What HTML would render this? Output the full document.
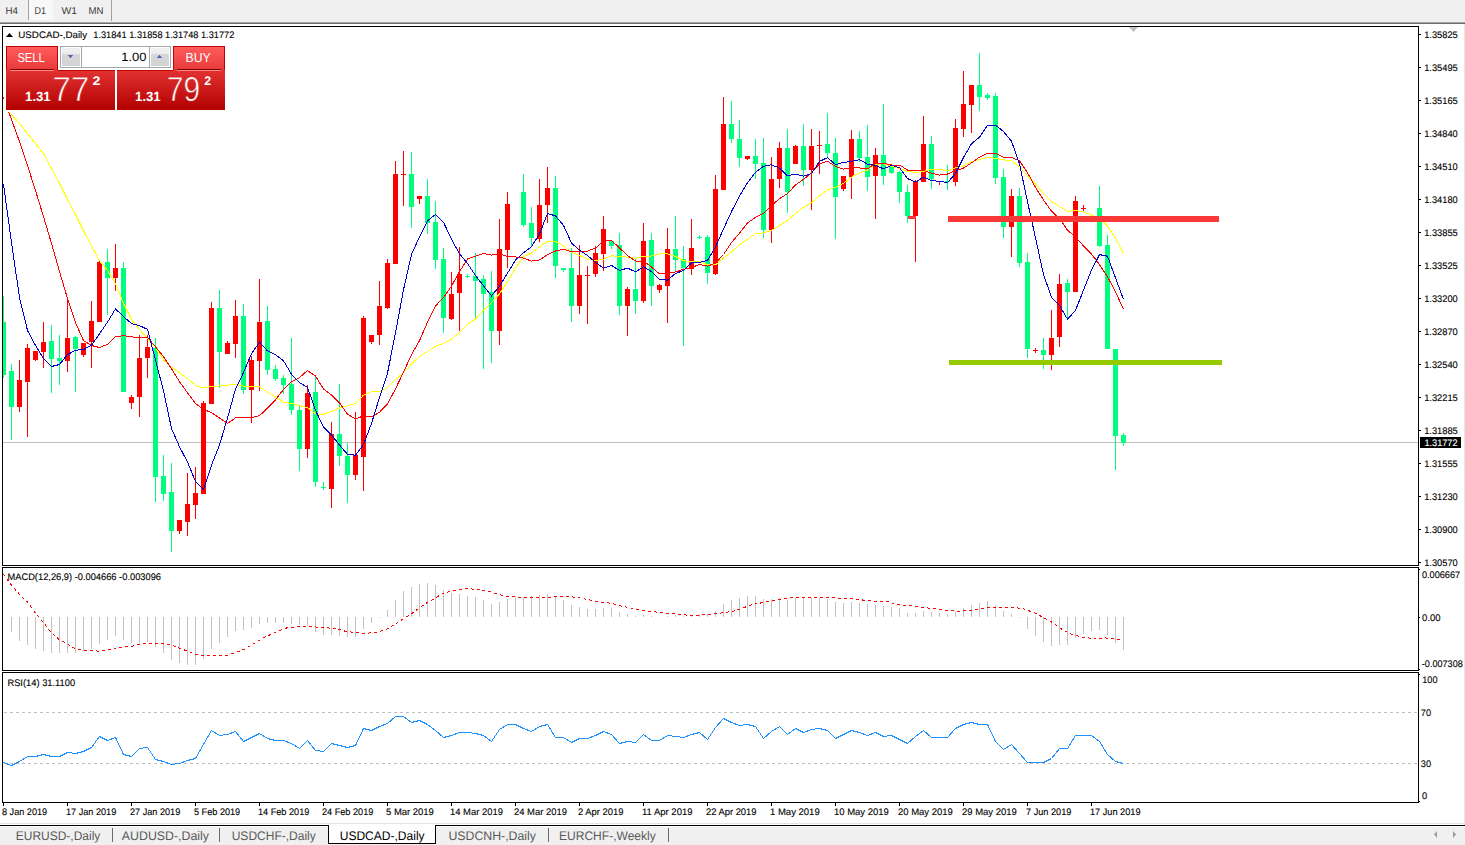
<!DOCTYPE html>
<html><head><meta charset="utf-8"><title>USDCAD-,Daily</title>
<style>
html,body{margin:0;padding:0;background:#fff;}
#root{position:relative;width:1465px;height:845px;overflow:hidden;background:#fff;font-family:"Liberation Sans",sans-serif;}
svg text{font-family:"Liberation Sans",sans-serif;text-rendering:geometricPrecision;}
</style></head><body>
<div id="root">
<svg width="1465" height="845" viewBox="0 0 1465 845" style="position:absolute;left:0;top:0" font-family="Liberation Sans, sans-serif">
<rect x="0" y="0" width="1465" height="22" fill="#f0f0f0"/>
<rect x="0" y="22" width="1465" height="1" fill="#a8a8a8"/>
<rect x="0" y="23" width="1465" height="1" fill="#6c6c6c"/>
<rect x="29" y="0" width="24" height="20" fill="#f8f8f8"/>
<rect x="28" y="0" width="1" height="20" fill="#a0a0a0"/>
<rect x="111" y="0" width="1" height="21" fill="#a0a0a0"/>
<text x="5.5" y="14" font-size="10" fill="#3a3a3a" font-weight="normal" text-anchor="start" textLength="12.5" lengthAdjust="spacingAndGlyphs"  >H4</text>
<text x="34.5" y="14" font-size="10" fill="#3a3a3a" font-weight="normal" text-anchor="start" textLength="11.5" lengthAdjust="spacingAndGlyphs"  >D1</text>
<text x="61.5" y="14" font-size="10" fill="#3a3a3a" font-weight="normal" text-anchor="start" textLength="15.5" lengthAdjust="spacingAndGlyphs"  >W1</text>
<text x="88.5" y="14" font-size="10" fill="#3a3a3a" font-weight="normal" text-anchor="start" textLength="15" lengthAdjust="spacingAndGlyphs"  >MN</text>
<rect x="1464" y="24" width="1" height="801" fill="#e8e8e8"/>
<rect x="2" y="26" width="1417" height="1" fill="#000"/>
<rect x="2" y="565" width="1417" height="1" fill="#000"/>
<rect x="2" y="26" width="1" height="540" fill="#000"/>
<rect x="1418" y="26" width="1" height="540" fill="#000"/>
<rect x="2" y="567" width="1417" height="1" fill="#000"/>
<rect x="2" y="670" width="1417" height="1" fill="#000"/>
<rect x="2" y="567" width="1" height="104" fill="#000"/>
<rect x="1418" y="567" width="1" height="104" fill="#000"/>
<rect x="2" y="672" width="1417" height="1" fill="#000"/>
<rect x="2" y="802" width="1417" height="1" fill="#000"/>
<rect x="2" y="672" width="1" height="131" fill="#000"/>
<rect x="1418" y="672" width="1" height="131" fill="#000"/>
<polygon points="1129,27 1138,27 1133.5,32" fill="#c0c0c0"/>
<defs><clipPath id="cp"><rect x="3" y="27" width="1415" height="538"/></clipPath><clipPath id="cm"><rect x="3" y="568" width="1415" height="102"/></clipPath><clipPath id="cr"><rect x="3" y="673" width="1415" height="129"/></clipPath></defs>
<g clip-path="url(#cp)">
<g shape-rendering="crispEdges">
<rect x="3" y="442" width="1415" height="1" fill="#c0c0c0"/>
<rect x="3" y="296" width="1" height="82" fill="#00ff7f"/>
<rect x="1" y="322" width="5" height="53" fill="#00ff7f"/>
<rect x="11" y="364" width="1" height="76" fill="#00ff7f"/>
<rect x="9" y="371" width="5" height="36" fill="#00ff7f"/>
<rect x="19" y="360" width="1" height="52" fill="#ff0000"/>
<rect x="17" y="380" width="5" height="27" fill="#ff0000"/>
<rect x="27" y="344" width="1" height="93" fill="#ff0000"/>
<rect x="25" y="348" width="5" height="34" fill="#ff0000"/>
<rect x="35" y="351" width="1" height="10" fill="#ff0000"/>
<rect x="33" y="351" width="5" height="9" fill="#ff0000"/>
<rect x="43" y="322" width="1" height="46" fill="#ff0000"/>
<rect x="41" y="342" width="5" height="10" fill="#ff0000"/>
<rect x="51" y="325" width="1" height="68" fill="#00ff7f"/>
<rect x="49" y="341" width="5" height="18" fill="#00ff7f"/>
<rect x="59" y="335" width="1" height="50" fill="#00ff7f"/>
<rect x="57" y="358" width="5" height="3" fill="#00ff7f"/>
<rect x="67" y="298" width="1" height="74" fill="#ff0000"/>
<rect x="65" y="338" width="5" height="23" fill="#ff0000"/>
<rect x="75" y="336" width="1" height="56" fill="#00ff7f"/>
<rect x="73" y="337" width="5" height="12" fill="#00ff7f"/>
<rect x="83" y="343" width="1" height="14" fill="#ff0000"/>
<rect x="81" y="343" width="5" height="12" fill="#ff0000"/>
<rect x="91" y="301" width="1" height="67" fill="#ff0000"/>
<rect x="89" y="321" width="5" height="21" fill="#ff0000"/>
<rect x="99" y="260" width="1" height="62" fill="#ff0000"/>
<rect x="97" y="262" width="5" height="60" fill="#ff0000"/>
<rect x="107" y="249" width="1" height="66" fill="#00ff7f"/>
<rect x="105" y="262" width="5" height="16" fill="#00ff7f"/>
<rect x="115" y="244" width="1" height="47" fill="#ff0000"/>
<rect x="113" y="268" width="5" height="10" fill="#ff0000"/>
<rect x="123" y="262" width="1" height="130" fill="#00ff7f"/>
<rect x="121" y="268" width="5" height="124" fill="#00ff7f"/>
<rect x="131" y="395" width="1" height="14" fill="#ff0000"/>
<rect x="129" y="397" width="5" height="6" fill="#ff0000"/>
<rect x="139" y="335" width="1" height="82" fill="#ff0000"/>
<rect x="137" y="358" width="5" height="39" fill="#ff0000"/>
<rect x="147" y="335" width="1" height="43" fill="#ff0000"/>
<rect x="145" y="347" width="5" height="11" fill="#ff0000"/>
<rect x="155" y="338" width="1" height="164" fill="#00ff7f"/>
<rect x="153" y="348" width="5" height="129" fill="#00ff7f"/>
<rect x="163" y="455" width="1" height="46" fill="#00ff7f"/>
<rect x="161" y="476" width="5" height="18" fill="#00ff7f"/>
<rect x="171" y="463" width="1" height="89" fill="#00ff7f"/>
<rect x="169" y="492" width="5" height="39" fill="#00ff7f"/>
<rect x="179" y="520" width="1" height="14" fill="#ff0000"/>
<rect x="177" y="520" width="5" height="11" fill="#ff0000"/>
<rect x="187" y="473" width="1" height="63" fill="#ff0000"/>
<rect x="185" y="504" width="5" height="18" fill="#ff0000"/>
<rect x="195" y="467" width="1" height="52" fill="#ff0000"/>
<rect x="193" y="493" width="5" height="12" fill="#ff0000"/>
<rect x="203" y="401" width="1" height="93" fill="#ff0000"/>
<rect x="201" y="403" width="5" height="91" fill="#ff0000"/>
<rect x="211" y="302" width="1" height="102" fill="#ff0000"/>
<rect x="209" y="308" width="5" height="96" fill="#ff0000"/>
<rect x="219" y="290" width="1" height="98" fill="#00ff7f"/>
<rect x="217" y="308" width="5" height="44" fill="#00ff7f"/>
<rect x="227" y="341" width="1" height="13" fill="#ff0000"/>
<rect x="225" y="343" width="5" height="11" fill="#ff0000"/>
<rect x="235" y="300" width="1" height="58" fill="#ff0000"/>
<rect x="233" y="316" width="5" height="28" fill="#ff0000"/>
<rect x="243" y="304" width="1" height="90" fill="#00ff7f"/>
<rect x="241" y="316" width="5" height="74" fill="#00ff7f"/>
<rect x="251" y="356" width="1" height="67" fill="#ff0000"/>
<rect x="249" y="360" width="5" height="30" fill="#ff0000"/>
<rect x="259" y="279" width="1" height="112" fill="#ff0000"/>
<rect x="257" y="322" width="5" height="39" fill="#ff0000"/>
<rect x="267" y="306" width="1" height="69" fill="#00ff7f"/>
<rect x="265" y="321" width="5" height="49" fill="#00ff7f"/>
<rect x="275" y="365" width="1" height="16" fill="#00ff7f"/>
<rect x="273" y="369" width="5" height="10" fill="#00ff7f"/>
<rect x="283" y="375" width="1" height="19" fill="#00ff7f"/>
<rect x="281" y="378" width="5" height="7" fill="#00ff7f"/>
<rect x="291" y="338" width="1" height="77" fill="#00ff7f"/>
<rect x="289" y="384" width="5" height="26" fill="#00ff7f"/>
<rect x="299" y="405" width="1" height="66" fill="#00ff7f"/>
<rect x="297" y="410" width="5" height="39" fill="#00ff7f"/>
<rect x="307" y="385" width="1" height="73" fill="#ff0000"/>
<rect x="305" y="393" width="5" height="56" fill="#ff0000"/>
<rect x="315" y="377" width="1" height="110" fill="#00ff7f"/>
<rect x="313" y="392" width="5" height="90" fill="#00ff7f"/>
<rect x="323" y="482" width="1" height="8" fill="#00ff7f"/>
<rect x="321" y="487" width="5" height="1" fill="#00ff7f"/>
<rect x="331" y="422" width="1" height="86" fill="#ff0000"/>
<rect x="329" y="434" width="5" height="55" fill="#ff0000"/>
<rect x="339" y="384" width="1" height="82" fill="#00ff7f"/>
<rect x="337" y="434" width="5" height="22" fill="#00ff7f"/>
<rect x="347" y="443" width="1" height="60" fill="#00ff7f"/>
<rect x="345" y="456" width="5" height="19" fill="#00ff7f"/>
<rect x="355" y="412" width="1" height="68" fill="#ff0000"/>
<rect x="353" y="455" width="5" height="20" fill="#ff0000"/>
<rect x="363" y="316" width="1" height="175" fill="#ff0000"/>
<rect x="361" y="318" width="5" height="139" fill="#ff0000"/>
<rect x="371" y="335" width="1" height="9" fill="#ff0000"/>
<rect x="369" y="335" width="5" height="7" fill="#ff0000"/>
<rect x="379" y="281" width="1" height="64" fill="#ff0000"/>
<rect x="377" y="306" width="5" height="29" fill="#ff0000"/>
<rect x="387" y="259" width="1" height="50" fill="#ff0000"/>
<rect x="385" y="263" width="5" height="45" fill="#ff0000"/>
<rect x="395" y="161" width="1" height="103" fill="#ff0000"/>
<rect x="393" y="174" width="5" height="90" fill="#ff0000"/>
<rect x="403" y="151" width="1" height="55" fill="#ff0000"/>
<rect x="401" y="174" width="5" height="1" fill="#ff0000"/>
<rect x="411" y="152" width="1" height="76" fill="#00ff7f"/>
<rect x="409" y="174" width="5" height="33" fill="#00ff7f"/>
<rect x="419" y="196" width="1" height="8" fill="#ff0000"/>
<rect x="417" y="196" width="5" height="3" fill="#ff0000"/>
<rect x="427" y="179" width="1" height="55" fill="#00ff7f"/>
<rect x="425" y="196" width="5" height="27" fill="#00ff7f"/>
<rect x="435" y="201" width="1" height="68" fill="#00ff7f"/>
<rect x="433" y="222" width="5" height="38" fill="#00ff7f"/>
<rect x="443" y="248" width="1" height="85" fill="#00ff7f"/>
<rect x="441" y="259" width="5" height="59" fill="#00ff7f"/>
<rect x="451" y="272" width="1" height="48" fill="#ff0000"/>
<rect x="449" y="294" width="5" height="25" fill="#ff0000"/>
<rect x="459" y="247" width="1" height="84" fill="#ff0000"/>
<rect x="457" y="274" width="5" height="19" fill="#ff0000"/>
<rect x="467" y="274" width="1" height="4" fill="#00ff7f"/>
<rect x="465" y="276" width="5" height="1" fill="#00ff7f"/>
<rect x="475" y="253" width="1" height="65" fill="#00ff7f"/>
<rect x="473" y="276" width="5" height="5" fill="#00ff7f"/>
<rect x="483" y="275" width="1" height="94" fill="#00ff7f"/>
<rect x="481" y="279" width="5" height="15" fill="#00ff7f"/>
<rect x="491" y="271" width="1" height="92" fill="#00ff7f"/>
<rect x="489" y="292" width="5" height="39" fill="#00ff7f"/>
<rect x="499" y="219" width="1" height="126" fill="#ff0000"/>
<rect x="497" y="249" width="5" height="82" fill="#ff0000"/>
<rect x="507" y="192" width="1" height="76" fill="#ff0000"/>
<rect x="505" y="204" width="5" height="46" fill="#ff0000"/>
<rect x="523" y="174" width="1" height="53" fill="#00ff7f"/>
<rect x="521" y="192" width="5" height="33" fill="#00ff7f"/>
<rect x="531" y="207" width="1" height="39" fill="#00ff7f"/>
<rect x="529" y="223" width="5" height="15" fill="#00ff7f"/>
<rect x="539" y="179" width="1" height="63" fill="#ff0000"/>
<rect x="537" y="205" width="5" height="34" fill="#ff0000"/>
<rect x="547" y="167" width="1" height="56" fill="#ff0000"/>
<rect x="545" y="188" width="5" height="17" fill="#ff0000"/>
<rect x="555" y="176" width="1" height="102" fill="#00ff7f"/>
<rect x="553" y="188" width="5" height="78" fill="#00ff7f"/>
<rect x="563" y="268" width="1" height="4" fill="#00ff7f"/>
<rect x="561" y="268" width="5" height="2" fill="#00ff7f"/>
<rect x="571" y="248" width="1" height="74" fill="#00ff7f"/>
<rect x="569" y="268" width="5" height="38" fill="#00ff7f"/>
<rect x="579" y="245" width="1" height="69" fill="#ff0000"/>
<rect x="577" y="275" width="5" height="31" fill="#ff0000"/>
<rect x="587" y="266" width="1" height="58" fill="#ff0000"/>
<rect x="585" y="275" width="5" height="1" fill="#ff0000"/>
<rect x="595" y="246" width="1" height="31" fill="#ff0000"/>
<rect x="593" y="253" width="5" height="21" fill="#ff0000"/>
<rect x="603" y="216" width="1" height="55" fill="#ff0000"/>
<rect x="601" y="229" width="5" height="25" fill="#ff0000"/>
<rect x="611" y="241" width="1" height="8" fill="#00ff7f"/>
<rect x="609" y="241" width="5" height="5" fill="#00ff7f"/>
<rect x="619" y="233" width="1" height="82" fill="#00ff7f"/>
<rect x="617" y="245" width="5" height="61" fill="#00ff7f"/>
<rect x="627" y="287" width="1" height="49" fill="#ff0000"/>
<rect x="625" y="289" width="5" height="17" fill="#ff0000"/>
<rect x="635" y="259" width="1" height="55" fill="#00ff7f"/>
<rect x="633" y="289" width="5" height="12" fill="#00ff7f"/>
<rect x="643" y="223" width="1" height="80" fill="#ff0000"/>
<rect x="641" y="241" width="5" height="60" fill="#ff0000"/>
<rect x="651" y="233" width="1" height="73" fill="#00ff7f"/>
<rect x="649" y="240" width="5" height="46" fill="#00ff7f"/>
<rect x="659" y="284" width="1" height="9" fill="#ff0000"/>
<rect x="657" y="285" width="5" height="5" fill="#ff0000"/>
<rect x="667" y="228" width="1" height="95" fill="#ff0000"/>
<rect x="665" y="249" width="5" height="37" fill="#ff0000"/>
<rect x="675" y="216" width="1" height="55" fill="#00ff7f"/>
<rect x="673" y="249" width="5" height="11" fill="#00ff7f"/>
<rect x="683" y="246" width="1" height="100" fill="#00ff7f"/>
<rect x="681" y="259" width="5" height="9" fill="#00ff7f"/>
<rect x="691" y="219" width="1" height="56" fill="#ff0000"/>
<rect x="689" y="248" width="5" height="21" fill="#ff0000"/>
<rect x="699" y="235" width="1" height="4" fill="#00ff7f"/>
<rect x="697" y="237" width="5" height="1" fill="#00ff7f"/>
<rect x="707" y="235" width="1" height="49" fill="#00ff7f"/>
<rect x="705" y="237" width="5" height="36" fill="#00ff7f"/>
<rect x="715" y="175" width="1" height="100" fill="#ff0000"/>
<rect x="713" y="189" width="5" height="85" fill="#ff0000"/>
<rect x="723" y="97" width="1" height="93" fill="#ff0000"/>
<rect x="721" y="124" width="5" height="66" fill="#ff0000"/>
<rect x="731" y="101" width="1" height="42" fill="#00ff7f"/>
<rect x="729" y="124" width="5" height="15" fill="#00ff7f"/>
<rect x="739" y="120" width="1" height="47" fill="#00ff7f"/>
<rect x="737" y="139" width="5" height="19" fill="#00ff7f"/>
<rect x="747" y="156" width="1" height="4" fill="#ff0000"/>
<rect x="745" y="156" width="5" height="3" fill="#ff0000"/>
<rect x="755" y="139" width="1" height="40" fill="#00ff7f"/>
<rect x="753" y="156" width="5" height="8" fill="#00ff7f"/>
<rect x="763" y="138" width="1" height="100" fill="#00ff7f"/>
<rect x="761" y="163" width="5" height="67" fill="#00ff7f"/>
<rect x="771" y="157" width="1" height="86" fill="#ff0000"/>
<rect x="769" y="179" width="5" height="51" fill="#ff0000"/>
<rect x="779" y="142" width="1" height="46" fill="#ff0000"/>
<rect x="777" y="148" width="5" height="31" fill="#ff0000"/>
<rect x="787" y="129" width="1" height="84" fill="#00ff7f"/>
<rect x="785" y="148" width="5" height="44" fill="#00ff7f"/>
<rect x="795" y="145" width="1" height="19" fill="#ff0000"/>
<rect x="793" y="146" width="5" height="18" fill="#ff0000"/>
<rect x="803" y="124" width="1" height="62" fill="#00ff7f"/>
<rect x="801" y="146" width="5" height="24" fill="#00ff7f"/>
<rect x="811" y="129" width="1" height="81" fill="#ff0000"/>
<rect x="809" y="146" width="5" height="24" fill="#ff0000"/>
<rect x="819" y="131" width="1" height="43" fill="#ff0000"/>
<rect x="817" y="145" width="5" height="1" fill="#ff0000"/>
<rect x="827" y="113" width="1" height="45" fill="#00ff7f"/>
<rect x="825" y="144" width="5" height="9" fill="#00ff7f"/>
<rect x="835" y="138" width="1" height="101" fill="#00ff7f"/>
<rect x="833" y="153" width="5" height="44" fill="#00ff7f"/>
<rect x="843" y="176" width="1" height="15" fill="#ff0000"/>
<rect x="841" y="176" width="5" height="13" fill="#ff0000"/>
<rect x="851" y="130" width="1" height="69" fill="#ff0000"/>
<rect x="849" y="139" width="5" height="38" fill="#ff0000"/>
<rect x="859" y="131" width="1" height="31" fill="#00ff7f"/>
<rect x="857" y="139" width="5" height="19" fill="#00ff7f"/>
<rect x="867" y="125" width="1" height="66" fill="#00ff7f"/>
<rect x="865" y="157" width="5" height="20" fill="#00ff7f"/>
<rect x="875" y="148" width="1" height="71" fill="#ff0000"/>
<rect x="873" y="155" width="5" height="21" fill="#ff0000"/>
<rect x="883" y="104" width="1" height="81" fill="#00ff7f"/>
<rect x="881" y="155" width="5" height="21" fill="#00ff7f"/>
<rect x="891" y="164" width="1" height="10" fill="#00ff7f"/>
<rect x="889" y="165" width="5" height="8" fill="#00ff7f"/>
<rect x="899" y="171" width="1" height="32" fill="#00ff7f"/>
<rect x="897" y="172" width="5" height="20" fill="#00ff7f"/>
<rect x="907" y="185" width="1" height="38" fill="#00ff7f"/>
<rect x="905" y="192" width="5" height="24" fill="#00ff7f"/>
<rect x="915" y="180" width="1" height="82" fill="#ff0000"/>
<rect x="913" y="181" width="5" height="35" fill="#ff0000"/>
<rect x="923" y="116" width="1" height="66" fill="#ff0000"/>
<rect x="921" y="144" width="5" height="38" fill="#ff0000"/>
<rect x="931" y="136" width="1" height="53" fill="#00ff7f"/>
<rect x="929" y="144" width="5" height="35" fill="#00ff7f"/>
<rect x="939" y="181" width="1" height="4" fill="#ff0000"/>
<rect x="937" y="181" width="5" height="1" fill="#ff0000"/>
<rect x="947" y="165" width="1" height="25" fill="#00ff7f"/>
<rect x="945" y="181" width="5" height="1" fill="#00ff7f"/>
<rect x="955" y="119" width="1" height="67" fill="#ff0000"/>
<rect x="953" y="128" width="5" height="54" fill="#ff0000"/>
<rect x="963" y="71" width="1" height="66" fill="#ff0000"/>
<rect x="961" y="104" width="5" height="25" fill="#ff0000"/>
<rect x="971" y="85" width="1" height="48" fill="#ff0000"/>
<rect x="969" y="85" width="5" height="20" fill="#ff0000"/>
<rect x="979" y="53" width="1" height="58" fill="#00ff7f"/>
<rect x="977" y="85" width="5" height="12" fill="#00ff7f"/>
<rect x="987" y="93" width="1" height="7" fill="#00ff7f"/>
<rect x="985" y="95" width="5" height="3" fill="#00ff7f"/>
<rect x="995" y="93" width="1" height="91" fill="#00ff7f"/>
<rect x="993" y="96" width="5" height="82" fill="#00ff7f"/>
<rect x="1003" y="169" width="1" height="69" fill="#00ff7f"/>
<rect x="1001" y="177" width="5" height="50" fill="#00ff7f"/>
<rect x="1011" y="189" width="1" height="68" fill="#ff0000"/>
<rect x="1009" y="196" width="5" height="31" fill="#ff0000"/>
<rect x="1019" y="188" width="1" height="79" fill="#00ff7f"/>
<rect x="1017" y="196" width="5" height="67" fill="#00ff7f"/>
<rect x="1027" y="253" width="1" height="105" fill="#00ff7f"/>
<rect x="1025" y="262" width="5" height="87" fill="#00ff7f"/>
<rect x="1035" y="348" width="1" height="5" fill="#ff0000"/>
<rect x="1033" y="350" width="5" height="1" fill="#ff0000"/>
<rect x="1043" y="338" width="1" height="31" fill="#00ff7f"/>
<rect x="1041" y="350" width="5" height="5" fill="#00ff7f"/>
<rect x="1051" y="310" width="1" height="60" fill="#ff0000"/>
<rect x="1049" y="338" width="5" height="17" fill="#ff0000"/>
<rect x="1059" y="274" width="1" height="73" fill="#ff0000"/>
<rect x="1057" y="284" width="5" height="53" fill="#ff0000"/>
<rect x="1067" y="279" width="1" height="40" fill="#00ff7f"/>
<rect x="1065" y="283" width="5" height="9" fill="#00ff7f"/>
<rect x="1075" y="196" width="1" height="96" fill="#ff0000"/>
<rect x="1073" y="201" width="5" height="91" fill="#ff0000"/>
<rect x="1083" y="205" width="1" height="6" fill="#ff0000"/>
<rect x="1081" y="208" width="5" height="1" fill="#ff0000"/>
<rect x="1099" y="186" width="1" height="61" fill="#00ff7f"/>
<rect x="1097" y="208" width="5" height="38" fill="#00ff7f"/>
<rect x="1107" y="235" width="1" height="114" fill="#00ff7f"/>
<rect x="1105" y="245" width="5" height="104" fill="#00ff7f"/>
<rect x="1115" y="349" width="1" height="121" fill="#00ff7f"/>
<rect x="1113" y="349" width="5" height="87" fill="#00ff7f"/>
<rect x="1123" y="433" width="1" height="13" fill="#00ff7f"/>
<rect x="1121" y="435" width="5" height="8" fill="#00ff7f"/>
</g>
<g shape-rendering="crispEdges">
<polyline points="3.5,108.5 11.5,114.5 19.5,123.5 27.5,133.5 35.5,143.5 43.5,153.5 51.5,168.5 59.5,183.5 67.5,199.5 75.5,214.5 83.5,230.5 91.5,246.1 99.5,260.5 107.5,270.5 115.5,283.5 123.5,303.5 131.5,319.5 139.5,329.5 147.5,338.5 155.5,347.5 163.5,359.9 171.5,367.3 179.5,372.7 187.5,378.6 195.5,385.5 203.5,388.0 211.5,386.4 219.5,386.0 227.5,385.2 235.5,384.1 243.5,386.1 251.5,386.9 259.5,386.9 267.5,392.1 275.5,396.9 283.5,402.5 291.5,403.3 299.5,405.8 307.5,407.5 315.5,413.9 323.5,414.4 331.5,411.5 339.5,408.0 347.5,405.8 355.5,403.5 363.5,395.2 371.5,391.9 379.5,391.8 387.5,387.6 395.5,379.5 403.5,372.8 411.5,364.1 419.5,356.3 427.5,351.5 435.5,346.3 443.5,343.4 451.5,339.1 459.5,332.6 467.5,324.4 475.5,319.0 483.5,310.1 491.5,302.6 499.5,293.8 507.5,281.8 515.5,267.8 523.5,256.9 531.5,253.1 539.5,246.9 547.5,241.3 555.5,241.4 563.5,246.0 571.5,252.3 579.5,255.5 587.5,259.3 595.5,260.7 603.5,259.2 611.5,255.8 619.5,256.4 627.5,257.1 635.5,258.3 643.5,256.4 651.5,256.0 659.5,253.8 667.5,253.8 675.5,256.5 683.5,260.5 691.5,261.6 699.5,261.6 707.5,264.8 715.5,264.9 723.5,258.1 731.5,251.9 739.5,244.8 747.5,239.2 755.5,233.9 763.5,232.8 771.5,230.4 779.5,225.7 787.5,220.3 795.5,213.5 803.5,207.3 811.5,202.7 819.5,196.0 827.5,189.7 835.5,187.3 843.5,183.3 851.5,177.1 859.5,172.8 867.5,170.0 875.5,164.4 883.5,163.7 891.5,166.1 899.5,168.6 907.5,171.4 915.5,172.5 923.5,171.6 931.5,169.2 939.5,169.3 947.5,170.9 955.5,167.8 963.5,165.8 971.5,161.8 979.5,159.5 987.5,157.2 995.5,158.4 1003.5,159.8 1011.5,160.8 1019.5,166.7 1027.5,175.8 1035.5,184.0 1043.5,193.5 1051.5,201.3 1059.5,206.5 1067.5,211.3 1075.5,210.6 1083.5,211.9 1091.5,215.0 1099.5,218.2 1107.5,226.2 1115.5,238.3 1123.5,253.3" fill="none" stroke="#ffff00" stroke-width="1" />
<polyline points="3.5,97.5 11.5,119.5 19.5,141.5 27.5,165.5 35.5,190.5 43.5,216.5 51.5,243.5 59.5,271.5 67.5,298.5 75.5,322.5 83.5,340.5 91.5,345.5 99.5,347.5 107.5,344.4 115.5,336.7 123.5,335.6 131.5,336.9 139.5,337.6 147.5,337.3 155.5,346.9 163.5,356.6 171.5,368.7 179.5,381.7 187.5,392.8 195.5,403.5 203.5,409.4 211.5,412.6 219.5,417.9 227.5,423.3 235.5,417.9 243.5,417.4 251.5,417.5 259.5,415.7 267.5,408.1 275.5,399.9 283.5,389.4 291.5,381.6 299.5,377.6 307.5,370.5 315.5,376.1 323.5,389.0 331.5,394.9 339.5,402.9 347.5,414.3 355.5,418.9 363.5,415.9 371.5,416.9 379.5,412.3 387.5,404.0 395.5,388.9 403.5,372.1 411.5,354.8 419.5,340.7 427.5,322.2 435.5,305.9 443.5,297.6 451.5,286.1 459.5,271.7 467.5,258.9 475.5,256.3 483.5,253.4 491.5,255.1 499.5,254.1 507.5,256.3 515.5,256.9 523.5,258.1 531.5,261.1 539.5,259.9 547.5,254.7 555.5,251.0 563.5,249.3 571.5,251.6 579.5,251.5 587.5,251.1 595.5,248.1 603.5,240.9 611.5,240.6 619.5,247.9 627.5,255.6 635.5,261.0 643.5,261.2 651.5,267.0 659.5,273.9 667.5,272.7 675.5,272.0 683.5,269.3 691.5,267.4 699.5,264.6 707.5,266.1 715.5,263.2 723.5,254.5 731.5,242.6 739.5,233.2 747.5,222.9 755.5,217.4 763.5,213.4 771.5,205.8 779.5,198.6 787.5,193.7 795.5,185.0 803.5,179.4 811.5,172.9 819.5,163.8 827.5,161.2 835.5,166.4 843.5,169.1 851.5,167.7 859.5,167.9 867.5,168.8 875.5,163.4 883.5,163.2 891.5,165.0 899.5,165.0 907.5,170.0 915.5,170.8 923.5,170.6 931.5,173.1 939.5,175.1 947.5,174.0 955.5,170.6 963.5,168.1 971.5,162.9 979.5,157.1 987.5,153.1 995.5,153.2 1003.5,157.1 1011.5,157.4 1019.5,160.7 1027.5,172.7 1035.5,187.4 1043.5,200.0 1051.5,211.2 1059.5,218.5 1067.5,230.2 1075.5,237.1 1083.5,245.9 1091.5,254.0 1099.5,264.6 1107.5,276.8 1115.5,291.7 1123.5,309.4" fill="none" stroke="#ff0000" stroke-width="1" />
<polyline points="3.5,184.5 11.5,242.5 19.5,297.5 27.5,330.5 35.5,345.5 43.5,358.5 51.5,366.5 59.5,364.5 67.5,354.6 75.5,350.2 83.5,349.5 91.5,345.2 99.5,333.8 107.5,322.2 115.5,308.9 123.5,316.6 131.5,323.5 139.5,325.6 147.5,329.4 155.5,360.1 163.5,390.9 171.5,428.5 179.5,446.8 187.5,462.1 195.5,481.4 203.5,489.4 211.5,465.2 219.5,444.9 227.5,418.1 235.5,388.9 243.5,372.6 251.5,353.6 259.5,342.1 267.5,350.9 275.5,354.8 283.5,360.8 291.5,374.2 299.5,382.6 307.5,387.4 315.5,410.2 323.5,427.1 331.5,434.9 339.5,445.1 347.5,454.4 355.5,455.2 363.5,444.5 371.5,423.5 379.5,397.5 387.5,373.1 395.5,332.8 403.5,289.8 411.5,254.4 419.5,236.9 427.5,220.9 435.5,214.4 443.5,222.2 451.5,239.4 459.5,253.6 467.5,263.5 475.5,275.6 483.5,285.8 491.5,295.9 499.5,286.1 507.5,273.2 515.5,260.1 523.5,252.8 531.5,246.6 539.5,233.9 547.5,213.5 555.5,215.9 563.5,225.4 571.5,243.1 579.5,250.2 587.5,255.5 595.5,262.4 603.5,268.2 611.5,265.4 619.5,270.5 627.5,268.1 635.5,271.8 643.5,266.9 651.5,271.6 659.5,279.6 667.5,280.1 675.5,273.5 683.5,270.5 691.5,262.9 699.5,262.4 707.5,260.5 715.5,246.8 723.5,228.9 731.5,211.6 739.5,195.9 747.5,182.8 755.5,172.4 763.5,166.2 771.5,164.8 779.5,168.2 787.5,175.8 795.5,174.1 803.5,176.1 811.5,173.5 819.5,161.4 827.5,157.6 835.5,164.6 843.5,162.4 851.5,161.4 859.5,159.6 867.5,164.1 875.5,165.5 883.5,168.8 891.5,165.4 899.5,167.6 907.5,178.6 915.5,181.9 923.5,177.2 931.5,180.6 939.5,181.4 947.5,182.6 955.5,173.5 963.5,157.5 971.5,143.8 979.5,137.1 987.5,125.5 995.5,125.1 1003.5,131.5 1011.5,141.2 1019.5,163.9 1027.5,201.6 1035.5,237.8 1043.5,274.5 1051.5,297.4 1059.5,305.5 1067.5,319.2 1075.5,310.4 1083.5,290.2 1091.5,270.2 1099.5,254.6 1107.5,256.2 1115.5,277.9 1123.5,299.5" fill="none" stroke="#0000cd" stroke-width="1" />
</g>
<rect x="908" y="216" width="8" height="3" fill="#fa3838"/>
<rect x="948" y="216" width="271" height="6" fill="#fa3838"/>
<rect x="949" y="360" width="273" height="5" fill="#96ca00"/>
</g>
<g clip-path="url(#cm)">
<g shape-rendering="crispEdges">
<rect x="11" y="617" width="1" height="15" fill="#c0c0c0"/>
<rect x="19" y="617" width="1" height="24" fill="#c0c0c0"/>
<rect x="27" y="617" width="1" height="28" fill="#c0c0c0"/>
<rect x="35" y="617" width="1" height="32" fill="#c0c0c0"/>
<rect x="43" y="617" width="1" height="34" fill="#c0c0c0"/>
<rect x="51" y="617" width="1" height="36" fill="#c0c0c0"/>
<rect x="59" y="617" width="1" height="36" fill="#c0c0c0"/>
<rect x="67" y="617" width="1" height="36" fill="#c0c0c0"/>
<rect x="75" y="617" width="1" height="36" fill="#c0c0c0"/>
<rect x="83" y="617" width="1" height="34" fill="#c0c0c0"/>
<rect x="91" y="617" width="1" height="32" fill="#c0c0c0"/>
<rect x="99" y="617" width="1" height="27" fill="#c0c0c0"/>
<rect x="107" y="617" width="1" height="23" fill="#c0c0c0"/>
<rect x="115" y="617" width="1" height="19" fill="#c0c0c0"/>
<rect x="123" y="617" width="1" height="23" fill="#c0c0c0"/>
<rect x="131" y="617" width="1" height="26" fill="#c0c0c0"/>
<rect x="139" y="617" width="1" height="26" fill="#c0c0c0"/>
<rect x="147" y="617" width="1" height="25" fill="#c0c0c0"/>
<rect x="155" y="617" width="1" height="30" fill="#c0c0c0"/>
<rect x="163" y="617" width="1" height="36" fill="#c0c0c0"/>
<rect x="171" y="617" width="1" height="43" fill="#c0c0c0"/>
<rect x="179" y="617" width="1" height="46" fill="#c0c0c0"/>
<rect x="187" y="617" width="1" height="48" fill="#c0c0c0"/>
<rect x="195" y="617" width="1" height="48" fill="#c0c0c0"/>
<rect x="203" y="617" width="1" height="42" fill="#c0c0c0"/>
<rect x="211" y="617" width="1" height="32" fill="#c0c0c0"/>
<rect x="219" y="617" width="1" height="26" fill="#c0c0c0"/>
<rect x="227" y="617" width="1" height="20" fill="#c0c0c0"/>
<rect x="235" y="617" width="1" height="14" fill="#c0c0c0"/>
<rect x="243" y="617" width="1" height="13" fill="#c0c0c0"/>
<rect x="251" y="617" width="1" height="11" fill="#c0c0c0"/>
<rect x="259" y="617" width="1" height="7" fill="#c0c0c0"/>
<rect x="267" y="617" width="1" height="6" fill="#c0c0c0"/>
<rect x="275" y="617" width="1" height="6" fill="#c0c0c0"/>
<rect x="283" y="617" width="1" height="6" fill="#c0c0c0"/>
<rect x="291" y="617" width="1" height="7" fill="#c0c0c0"/>
<rect x="299" y="617" width="1" height="8" fill="#c0c0c0"/>
<rect x="307" y="617" width="1" height="9" fill="#c0c0c0"/>
<rect x="315" y="617" width="1" height="15" fill="#c0c0c0"/>
<rect x="323" y="617" width="1" height="18" fill="#c0c0c0"/>
<rect x="331" y="617" width="1" height="18" fill="#c0c0c0"/>
<rect x="339" y="617" width="1" height="19" fill="#c0c0c0"/>
<rect x="347" y="617" width="1" height="20" fill="#c0c0c0"/>
<rect x="355" y="617" width="1" height="20" fill="#c0c0c0"/>
<rect x="363" y="617" width="1" height="12" fill="#c0c0c0"/>
<rect x="371" y="617" width="1" height="6" fill="#c0c0c0"/>
<rect x="379" y="617" width="1" height="1" fill="#c0c0c0"/>
<rect x="387" y="610" width="1" height="7" fill="#c0c0c0"/>
<rect x="395" y="600" width="1" height="17" fill="#c0c0c0"/>
<rect x="403" y="591" width="1" height="26" fill="#c0c0c0"/>
<rect x="411" y="587" width="1" height="30" fill="#c0c0c0"/>
<rect x="419" y="584" width="1" height="33" fill="#c0c0c0"/>
<rect x="427" y="583" width="1" height="34" fill="#c0c0c0"/>
<rect x="435" y="585" width="1" height="32" fill="#c0c0c0"/>
<rect x="443" y="590" width="1" height="27" fill="#c0c0c0"/>
<rect x="451" y="593" width="1" height="24" fill="#c0c0c0"/>
<rect x="459" y="594" width="1" height="23" fill="#c0c0c0"/>
<rect x="467" y="596" width="1" height="21" fill="#c0c0c0"/>
<rect x="475" y="597" width="1" height="20" fill="#c0c0c0"/>
<rect x="483" y="600" width="1" height="17" fill="#c0c0c0"/>
<rect x="491" y="604" width="1" height="13" fill="#c0c0c0"/>
<rect x="499" y="602" width="1" height="15" fill="#c0c0c0"/>
<rect x="507" y="599" width="1" height="18" fill="#c0c0c0"/>
<rect x="515" y="597" width="1" height="20" fill="#c0c0c0"/>
<rect x="523" y="597" width="1" height="20" fill="#c0c0c0"/>
<rect x="531" y="596" width="1" height="21" fill="#c0c0c0"/>
<rect x="539" y="595" width="1" height="22" fill="#c0c0c0"/>
<rect x="547" y="594" width="1" height="23" fill="#c0c0c0"/>
<rect x="555" y="597" width="1" height="20" fill="#c0c0c0"/>
<rect x="563" y="600" width="1" height="17" fill="#c0c0c0"/>
<rect x="571" y="605" width="1" height="12" fill="#c0c0c0"/>
<rect x="579" y="607" width="1" height="10" fill="#c0c0c0"/>
<rect x="587" y="609" width="1" height="8" fill="#c0c0c0"/>
<rect x="595" y="609" width="1" height="8" fill="#c0c0c0"/>
<rect x="603" y="608" width="1" height="9" fill="#c0c0c0"/>
<rect x="611" y="608" width="1" height="9" fill="#c0c0c0"/>
<rect x="619" y="612" width="1" height="5" fill="#c0c0c0"/>
<rect x="627" y="614" width="1" height="3" fill="#c0c0c0"/>
<rect x="635" y="616" width="1" height="1" fill="#c0c0c0"/>
<rect x="643" y="615" width="1" height="2" fill="#c0c0c0"/>
<rect x="651" y="616" width="1" height="1" fill="#c0c0c0"/>
<rect x="667" y="616" width="1" height="1" fill="#c0c0c0"/>
<rect x="675" y="615" width="1" height="2" fill="#c0c0c0"/>
<rect x="683" y="616" width="1" height="1" fill="#c0c0c0"/>
<rect x="691" y="615" width="1" height="2" fill="#c0c0c0"/>
<rect x="699" y="614" width="1" height="3" fill="#c0c0c0"/>
<rect x="707" y="614" width="1" height="3" fill="#c0c0c0"/>
<rect x="715" y="611" width="1" height="6" fill="#c0c0c0"/>
<rect x="723" y="604" width="1" height="13" fill="#c0c0c0"/>
<rect x="731" y="600" width="1" height="17" fill="#c0c0c0"/>
<rect x="739" y="598" width="1" height="19" fill="#c0c0c0"/>
<rect x="747" y="596" width="1" height="21" fill="#c0c0c0"/>
<rect x="755" y="596" width="1" height="21" fill="#c0c0c0"/>
<rect x="763" y="599" width="1" height="18" fill="#c0c0c0"/>
<rect x="771" y="599" width="1" height="18" fill="#c0c0c0"/>
<rect x="779" y="598" width="1" height="19" fill="#c0c0c0"/>
<rect x="787" y="600" width="1" height="17" fill="#c0c0c0"/>
<rect x="795" y="598" width="1" height="19" fill="#c0c0c0"/>
<rect x="803" y="598" width="1" height="19" fill="#c0c0c0"/>
<rect x="811" y="598" width="1" height="19" fill="#c0c0c0"/>
<rect x="819" y="598" width="1" height="19" fill="#c0c0c0"/>
<rect x="827" y="599" width="1" height="18" fill="#c0c0c0"/>
<rect x="835" y="602" width="1" height="15" fill="#c0c0c0"/>
<rect x="843" y="603" width="1" height="14" fill="#c0c0c0"/>
<rect x="851" y="602" width="1" height="15" fill="#c0c0c0"/>
<rect x="859" y="603" width="1" height="14" fill="#c0c0c0"/>
<rect x="867" y="604" width="1" height="13" fill="#c0c0c0"/>
<rect x="875" y="605" width="1" height="12" fill="#c0c0c0"/>
<rect x="883" y="606" width="1" height="11" fill="#c0c0c0"/>
<rect x="891" y="607" width="1" height="10" fill="#c0c0c0"/>
<rect x="899" y="608" width="1" height="9" fill="#c0c0c0"/>
<rect x="907" y="613" width="1" height="4" fill="#c0c0c0"/>
<rect x="915" y="613" width="1" height="4" fill="#c0c0c0"/>
<rect x="923" y="611" width="1" height="6" fill="#c0c0c0"/>
<rect x="931" y="612" width="1" height="5" fill="#c0c0c0"/>
<rect x="939" y="613" width="1" height="4" fill="#c0c0c0"/>
<rect x="947" y="614" width="1" height="3" fill="#c0c0c0"/>
<rect x="955" y="612" width="1" height="5" fill="#c0c0c0"/>
<rect x="963" y="608" width="1" height="9" fill="#c0c0c0"/>
<rect x="971" y="605" width="1" height="12" fill="#c0c0c0"/>
<rect x="979" y="603" width="1" height="14" fill="#c0c0c0"/>
<rect x="987" y="601" width="1" height="16" fill="#c0c0c0"/>
<rect x="995" y="605" width="1" height="12" fill="#c0c0c0"/>
<rect x="1003" y="611" width="1" height="6" fill="#c0c0c0"/>
<rect x="1011" y="614" width="1" height="3" fill="#c0c0c0"/>
<rect x="1019" y="617" width="1" height="1" fill="#c0c0c0"/>
<rect x="1027" y="617" width="1" height="12" fill="#c0c0c0"/>
<rect x="1035" y="617" width="1" height="19" fill="#c0c0c0"/>
<rect x="1043" y="617" width="1" height="25" fill="#c0c0c0"/>
<rect x="1051" y="617" width="1" height="29" fill="#c0c0c0"/>
<rect x="1059" y="617" width="1" height="28" fill="#c0c0c0"/>
<rect x="1067" y="617" width="1" height="28" fill="#c0c0c0"/>
<rect x="1075" y="617" width="1" height="21" fill="#c0c0c0"/>
<rect x="1083" y="617" width="1" height="17" fill="#c0c0c0"/>
<rect x="1091" y="617" width="1" height="14" fill="#c0c0c0"/>
<rect x="1099" y="617" width="1" height="13" fill="#c0c0c0"/>
<rect x="1107" y="617" width="1" height="18" fill="#c0c0c0"/>
<rect x="1115" y="617" width="1" height="26" fill="#c0c0c0"/>
<rect x="1123" y="617" width="1" height="33" fill="#c0c0c0"/>
<polyline points="3.0,573.7 11.5,585.2 19.0,593.8 27.7,602.4 35.4,612.9 44.0,623.4 51.6,633.0 59.3,639.6 66.9,643.5 74.5,648.2 84.1,650.5 99.4,651.1 107.0,650.1 114.7,648.2 122.3,646.9 131.9,646.3 139.5,644.4 147.2,643.5 160.6,643.5 170.1,644.4 179.7,648.2 187.3,651.1 195.0,654.0 202.6,655.3 210.2,655.9 227.4,655.3 235.1,652.6 244.6,649.2 254.2,643.5 263.8,637.7 275.2,632.4 281.5,629.7 287.2,627.8 298.7,626.6 312.0,626.6 323.5,627.8 335.0,628.2 346.5,631.6 357.9,632.6 365.6,633.5 377.0,632.0 384.7,630.1 390.4,627.2 396.1,623.4 403.8,618.6 413.3,612.5 419.1,608.1 426.7,602.9 434.4,598.5 442.0,593.8 449.7,591.5 457.3,589.6 466.9,588.6 478.3,589.6 486.0,590.9 491.7,592.2 499.4,594.7 508.9,596.6 518.5,597.2 549.0,597.2 563.2,596.2 575.6,597.2 587.0,599.5 594.7,601.0 602.3,602.4 611.9,603.3 621.5,606.2 629.1,607.5 636.7,609.4 648.2,611.0 659.7,612.5 671.1,613.4 678.8,614.4 690.3,615.4 705.5,614.8 715.1,613.8 724.7,612.5 734.2,611.0 743.8,607.7 751.4,604.8 761.0,602.9 770.5,601.0 780.1,599.1 793.5,597.6 824.0,597.2 858.7,599.3 867.4,600.9 887.1,601.5 898.0,604.6 911.1,605.9 928.6,608.1 946.1,610.3 959.2,611.3 976.6,609.6 989.7,607.4 1011.6,607.4 1022.5,608.5 1033.4,612.4 1042.2,616.8 1050.9,621.6 1061.8,629.3 1072.8,634.7 1081.5,636.9 1096.8,639.1 1105.5,638.0 1123.0,639.5" fill="none" stroke="#ff0000" stroke-width="1" stroke-dasharray="3,3"/>
</g>
</g>
<g clip-path="url(#cr)">
<g shape-rendering="crispEdges">
<line x1="4" y1="712.5" x2="1418" y2="712.5" stroke="#c0c0c0" stroke-dasharray="3,3"/>
<line x1="4" y1="763.5" x2="1418" y2="763.5" stroke="#c0c0c0" stroke-dasharray="3,3"/>
</g>
<g shape-rendering="crispEdges">
<polyline points="3.5,762.5 11.5,765.5 19.5,761.5 27.5,756.5 35.5,756.5 43.5,754.5 51.5,756.5 59.5,756.5 67.5,752.5 75.5,753.5 83.5,751.5 91.5,747.5 99.5,736.5 107.5,740.5 115.5,737.5 123.5,754.5 131.5,756.5 139.5,748.5 147.5,747.5 155.5,759.5 163.5,761.5 171.5,764.5 179.5,763.5 187.5,760.5 195.5,758.5 203.5,744.5 211.5,730.5 219.5,735.5 227.5,734.5 235.5,731.5 243.5,741.5 251.5,737.5 259.5,733.5 267.5,738.5 275.5,740.5 283.5,740.5 291.5,743.5 299.5,748.5 307.5,740.5 315.5,750.5 323.5,751.5 331.5,743.5 339.5,745.5 347.5,747.5 355.5,745.5 363.5,728.5 371.5,730.5 379.5,726.5 387.5,723.5 395.5,716.5 403.5,716.5 411.5,722.5 419.5,720.5 427.5,724.5 435.5,730.5 443.5,737.5 451.5,735.5 459.5,732.5 467.5,732.5 475.5,733.5 483.5,735.5 491.5,741.5 499.5,729.5 507.5,724.5 515.5,724.5 523.5,728.5 531.5,731.5 539.5,726.5 547.5,724.5 555.5,737.5 563.5,737.5 571.5,742.5 579.5,738.5 587.5,738.5 595.5,735.5 603.5,731.5 611.5,734.5 619.5,743.5 627.5,741.5 635.5,742.5 643.5,734.5 651.5,740.5 659.5,740.5 667.5,735.5 675.5,736.5 683.5,737.5 691.5,734.5 699.5,732.5 707.5,739.5 715.5,727.5 723.5,718.5 731.5,722.5 739.5,725.5 747.5,724.5 755.5,726.5 763.5,738.5 771.5,731.5 779.5,726.5 787.5,734.5 795.5,728.5 803.5,732.5 811.5,729.5 819.5,728.5 827.5,730.5 835.5,738.5 843.5,734.5 851.5,730.5 859.5,732.5 867.5,735.5 875.5,732.5 883.5,736.5 891.5,735.5 899.5,739.5 907.5,743.5 915.5,736.5 923.5,730.5 931.5,737.5 939.5,737.5 947.5,737.5 955.5,728.5 963.5,724.5 971.5,722.5 979.5,724.5 987.5,724.5 995.5,741.5 1003.5,749.5 1011.5,744.5 1019.5,753.5 1027.5,762.5 1035.5,762.5 1043.5,762.5 1051.5,758.5 1059.5,748.5 1067.5,748.5 1075.5,735.5 1083.5,735.5 1091.5,735.5 1099.5,741.5 1107.5,754.5 1115.5,761.5 1123.5,763.5" fill="none" stroke="#1e90ff" stroke-width="1" />
</g>
</g>
<rect x="1419" y="34" width="2" height="1" fill="#000"/>
<text x="1424.2" y="38" font-size="9.5" fill="#000" font-weight="normal" text-anchor="start" textLength="33.6" lengthAdjust="spacingAndGlyphs" stroke="#000" stroke-width="0.12">1.35825</text>
<rect x="1419" y="67" width="2" height="1" fill="#000"/>
<text x="1424.2" y="71" font-size="9.5" fill="#000" font-weight="normal" text-anchor="start" textLength="33.6" lengthAdjust="spacingAndGlyphs" stroke="#000" stroke-width="0.12">1.35495</text>
<rect x="1419" y="100" width="2" height="1" fill="#000"/>
<text x="1424.2" y="104" font-size="9.5" fill="#000" font-weight="normal" text-anchor="start" textLength="33.6" lengthAdjust="spacingAndGlyphs" stroke="#000" stroke-width="0.12">1.35165</text>
<rect x="1419" y="133" width="2" height="1" fill="#000"/>
<text x="1424.2" y="137" font-size="9.5" fill="#000" font-weight="normal" text-anchor="start" textLength="33.6" lengthAdjust="spacingAndGlyphs" stroke="#000" stroke-width="0.12">1.34840</text>
<rect x="1419" y="166" width="2" height="1" fill="#000"/>
<text x="1424.2" y="170" font-size="9.5" fill="#000" font-weight="normal" text-anchor="start" textLength="33.6" lengthAdjust="spacingAndGlyphs" stroke="#000" stroke-width="0.12">1.34510</text>
<rect x="1419" y="199" width="2" height="1" fill="#000"/>
<text x="1424.2" y="203" font-size="9.5" fill="#000" font-weight="normal" text-anchor="start" textLength="33.6" lengthAdjust="spacingAndGlyphs" stroke="#000" stroke-width="0.12">1.34180</text>
<rect x="1419" y="232" width="2" height="1" fill="#000"/>
<text x="1424.2" y="236" font-size="9.5" fill="#000" font-weight="normal" text-anchor="start" textLength="33.6" lengthAdjust="spacingAndGlyphs" stroke="#000" stroke-width="0.12">1.33855</text>
<rect x="1419" y="265" width="2" height="1" fill="#000"/>
<text x="1424.2" y="269" font-size="9.5" fill="#000" font-weight="normal" text-anchor="start" textLength="33.6" lengthAdjust="spacingAndGlyphs" stroke="#000" stroke-width="0.12">1.33525</text>
<rect x="1419" y="298" width="2" height="1" fill="#000"/>
<text x="1424.2" y="302" font-size="9.5" fill="#000" font-weight="normal" text-anchor="start" textLength="33.6" lengthAdjust="spacingAndGlyphs" stroke="#000" stroke-width="0.12">1.33200</text>
<rect x="1419" y="331" width="2" height="1" fill="#000"/>
<text x="1424.2" y="335" font-size="9.5" fill="#000" font-weight="normal" text-anchor="start" textLength="33.6" lengthAdjust="spacingAndGlyphs" stroke="#000" stroke-width="0.12">1.32870</text>
<rect x="1419" y="364" width="2" height="1" fill="#000"/>
<text x="1424.2" y="368" font-size="9.5" fill="#000" font-weight="normal" text-anchor="start" textLength="33.6" lengthAdjust="spacingAndGlyphs" stroke="#000" stroke-width="0.12">1.32540</text>
<rect x="1419" y="397" width="2" height="1" fill="#000"/>
<text x="1424.2" y="401" font-size="9.5" fill="#000" font-weight="normal" text-anchor="start" textLength="33.6" lengthAdjust="spacingAndGlyphs" stroke="#000" stroke-width="0.12">1.32215</text>
<rect x="1419" y="430" width="2" height="1" fill="#000"/>
<text x="1424.2" y="434" font-size="9.5" fill="#000" font-weight="normal" text-anchor="start" textLength="33.6" lengthAdjust="spacingAndGlyphs" stroke="#000" stroke-width="0.12">1.31885</text>
<rect x="1419" y="463" width="2" height="1" fill="#000"/>
<text x="1424.2" y="467" font-size="9.5" fill="#000" font-weight="normal" text-anchor="start" textLength="33.6" lengthAdjust="spacingAndGlyphs" stroke="#000" stroke-width="0.12">1.31555</text>
<rect x="1419" y="496" width="2" height="1" fill="#000"/>
<text x="1424.2" y="500" font-size="9.5" fill="#000" font-weight="normal" text-anchor="start" textLength="33.6" lengthAdjust="spacingAndGlyphs" stroke="#000" stroke-width="0.12">1.31230</text>
<rect x="1419" y="529" width="2" height="1" fill="#000"/>
<text x="1424.2" y="533" font-size="9.5" fill="#000" font-weight="normal" text-anchor="start" textLength="33.6" lengthAdjust="spacingAndGlyphs" stroke="#000" stroke-width="0.12">1.30900</text>
<rect x="1419" y="562" width="2" height="1" fill="#000"/>
<text x="1424.2" y="566" font-size="9.5" fill="#000" font-weight="normal" text-anchor="start" textLength="33.6" lengthAdjust="spacingAndGlyphs" stroke="#000" stroke-width="0.12">1.30570</text>
<rect x="1420" y="437" width="41" height="11" fill="#000"/>
<text x="1424.4" y="446.3" font-size="9.5" fill="#fff" font-weight="normal" text-anchor="start" textLength="33.2" lengthAdjust="spacingAndGlyphs" stroke="#fff" stroke-width="0.12">1.31772</text>
<rect x="1419" y="569" width="1" height="1" fill="#000"/>
<text x="1421.9" y="578" font-size="9.5" fill="#000" font-weight="normal" text-anchor="start" textLength="38.3" lengthAdjust="spacingAndGlyphs" stroke="#000" stroke-width="0.12">0.006667</text>
<rect x="1419" y="617" width="1" height="1" fill="#000"/>
<text x="1422.1" y="620.6" font-size="9.5" fill="#000" font-weight="normal" text-anchor="start" textLength="18.5" lengthAdjust="spacingAndGlyphs" stroke="#000" stroke-width="0.12">0.00</text>
<rect x="1419" y="669" width="1" height="1" fill="#000"/>
<text x="1421.8" y="667" font-size="9.5" fill="#000" font-weight="normal" text-anchor="start" textLength="41" lengthAdjust="spacingAndGlyphs" stroke="#000" stroke-width="0.12">-0.007308</text>
<text x="1422.2" y="683" font-size="9.5" fill="#000" font-weight="normal" text-anchor="start" textLength="15.3" lengthAdjust="spacingAndGlyphs" stroke="#000" stroke-width="0.12">100</text>
<text x="1420.8" y="716.3" font-size="9.5" fill="#000" font-weight="normal" text-anchor="start" textLength="10.3" lengthAdjust="spacingAndGlyphs" stroke="#000" stroke-width="0.12">70</text>
<text x="1420.8" y="767.3" font-size="9.5" fill="#000" font-weight="normal" text-anchor="start" textLength="10.3" lengthAdjust="spacingAndGlyphs" stroke="#000" stroke-width="0.12">30</text>
<text x="1422.1" y="798.7" font-size="9.5" fill="#000" font-weight="normal" text-anchor="start" textLength="5.2" lengthAdjust="spacingAndGlyphs" stroke="#000" stroke-width="0.12">0</text>
<rect x="1419" y="674" width="1" height="1" fill="#000"/>
<rect x="1419" y="801" width="1" height="1" fill="#000"/>
<rect x="3" y="803" width="1" height="3" fill="#000"/>
<text x="2" y="815" font-size="9.5" fill="#000" font-weight="normal" text-anchor="start" textLength="45.1" lengthAdjust="spacingAndGlyphs" stroke="#000" stroke-width="0.12">8 Jan 2019</text>
<rect x="67" y="803" width="1" height="3" fill="#000"/>
<text x="66" y="815" font-size="9.5" fill="#000" font-weight="normal" text-anchor="start" textLength="50.2" lengthAdjust="spacingAndGlyphs" stroke="#000" stroke-width="0.12">17 Jan 2019</text>
<rect x="131" y="803" width="1" height="3" fill="#000"/>
<text x="130" y="815" font-size="9.5" fill="#000" font-weight="normal" text-anchor="start" textLength="50.2" lengthAdjust="spacingAndGlyphs" stroke="#000" stroke-width="0.12">27 Jan 2019</text>
<rect x="195" y="803" width="1" height="3" fill="#000"/>
<text x="194" y="815" font-size="9.5" fill="#000" font-weight="normal" text-anchor="start" textLength="46.2" lengthAdjust="spacingAndGlyphs" stroke="#000" stroke-width="0.12">5 Feb 2019</text>
<rect x="259" y="803" width="1" height="3" fill="#000"/>
<text x="258" y="815" font-size="9.5" fill="#000" font-weight="normal" text-anchor="start" textLength="51.3" lengthAdjust="spacingAndGlyphs" stroke="#000" stroke-width="0.12">14 Feb 2019</text>
<rect x="323" y="803" width="1" height="3" fill="#000"/>
<text x="322" y="815" font-size="9.5" fill="#000" font-weight="normal" text-anchor="start" textLength="51.3" lengthAdjust="spacingAndGlyphs" stroke="#000" stroke-width="0.12">24 Feb 2019</text>
<rect x="387" y="803" width="1" height="3" fill="#000"/>
<text x="386" y="815" font-size="9.5" fill="#000" font-weight="normal" text-anchor="start" textLength="47.8" lengthAdjust="spacingAndGlyphs" stroke="#000" stroke-width="0.12">5 Mar 2019</text>
<rect x="451" y="803" width="1" height="3" fill="#000"/>
<text x="450" y="815" font-size="9.5" fill="#000" font-weight="normal" text-anchor="start" textLength="52.9" lengthAdjust="spacingAndGlyphs" stroke="#000" stroke-width="0.12">14 Mar 2019</text>
<rect x="515" y="803" width="1" height="3" fill="#000"/>
<text x="514" y="815" font-size="9.5" fill="#000" font-weight="normal" text-anchor="start" textLength="52.9" lengthAdjust="spacingAndGlyphs" stroke="#000" stroke-width="0.12">24 Mar 2019</text>
<rect x="579" y="803" width="1" height="3" fill="#000"/>
<text x="578" y="815" font-size="9.5" fill="#000" font-weight="normal" text-anchor="start" textLength="45.4" lengthAdjust="spacingAndGlyphs" stroke="#000" stroke-width="0.12">2 Apr 2019</text>
<rect x="643" y="803" width="1" height="3" fill="#000"/>
<text x="642" y="815" font-size="9.5" fill="#000" font-weight="normal" text-anchor="start" textLength="50.5" lengthAdjust="spacingAndGlyphs" stroke="#000" stroke-width="0.12">11 Apr 2019</text>
<rect x="707" y="803" width="1" height="3" fill="#000"/>
<text x="706" y="815" font-size="9.5" fill="#000" font-weight="normal" text-anchor="start" textLength="50.5" lengthAdjust="spacingAndGlyphs" stroke="#000" stroke-width="0.12">22 Apr 2019</text>
<rect x="771" y="803" width="1" height="3" fill="#000"/>
<text x="770" y="815" font-size="9.5" fill="#000" font-weight="normal" text-anchor="start" textLength="49.7" lengthAdjust="spacingAndGlyphs" stroke="#000" stroke-width="0.12">1 May 2019</text>
<rect x="835" y="803" width="1" height="3" fill="#000"/>
<text x="834" y="815" font-size="9.5" fill="#000" font-weight="normal" text-anchor="start" textLength="54.8" lengthAdjust="spacingAndGlyphs" stroke="#000" stroke-width="0.12">10 May 2019</text>
<rect x="899" y="803" width="1" height="3" fill="#000"/>
<text x="898" y="815" font-size="9.5" fill="#000" font-weight="normal" text-anchor="start" textLength="54.8" lengthAdjust="spacingAndGlyphs" stroke="#000" stroke-width="0.12">20 May 2019</text>
<rect x="963" y="803" width="1" height="3" fill="#000"/>
<text x="962" y="815" font-size="9.5" fill="#000" font-weight="normal" text-anchor="start" textLength="54.8" lengthAdjust="spacingAndGlyphs" stroke="#000" stroke-width="0.12">29 May 2019</text>
<rect x="1027" y="803" width="1" height="3" fill="#000"/>
<text x="1026" y="815" font-size="9.5" fill="#000" font-weight="normal" text-anchor="start" textLength="45.4" lengthAdjust="spacingAndGlyphs" stroke="#000" stroke-width="0.12">7 Jun 2019</text>
<rect x="1091" y="803" width="1" height="3" fill="#000"/>
<text x="1090" y="815" font-size="9.5" fill="#000" font-weight="normal" text-anchor="start" textLength="50.5" lengthAdjust="spacingAndGlyphs" stroke="#000" stroke-width="0.12">17 Jun 2019</text>
<polygon points="6,37 13,37 9.5,33" fill="#000"/>
<text x="18.3" y="38" font-size="9.5" fill="#000" font-weight="normal" text-anchor="start" textLength="68.8" lengthAdjust="spacingAndGlyphs" stroke="#000" stroke-width="0.12">USDCAD-,Daily</text>
<text x="93.3" y="38" font-size="9.5" fill="#000" font-weight="normal" text-anchor="start" textLength="141" lengthAdjust="spacingAndGlyphs" stroke="#000" stroke-width="0.12">1.31841 1.31858 1.31748 1.31772</text>
<text x="7.5" y="580" font-size="9.5" fill="#000" font-weight="normal" text-anchor="start" textLength="153.5" lengthAdjust="spacingAndGlyphs" stroke="#000" stroke-width="0.12">MACD(12,26,9) -0.004666 -0.003096</text>
<text x="7.4" y="685.5" font-size="9.5" fill="#000" font-weight="normal" text-anchor="start" textLength="67.8" lengthAdjust="spacingAndGlyphs" stroke="#000" stroke-width="0.12">RSI(14) 31.1100</text>
<rect x="0" y="823" width="1465" height="1" fill="#e3e3e3"/>
<rect x="0" y="825" width="1465" height="1" fill="#000"/>
<rect x="0" y="827" width="1465" height="18" fill="#f0f0f0"/>
<rect x="0" y="826" width="1465" height="1" fill="#ffffff"/>
<rect x="328" y="825" width="108" height="19" fill="#000"/>
<rect x="329" y="824" width="106" height="19" fill="#ffffff"/>
<text x="15.8" y="840" font-size="12.5" fill="#5a5a5a" font-weight="normal" text-anchor="start" textLength="84.5" lengthAdjust="spacingAndGlyphs" >EURUSD-,Daily</text>
<text x="121.8" y="840" font-size="12.5" fill="#5a5a5a" font-weight="normal" text-anchor="start" textLength="87.2" lengthAdjust="spacingAndGlyphs" >AUDUSD-,Daily</text>
<text x="231.7" y="840" font-size="12.5" fill="#5a5a5a" font-weight="normal" text-anchor="start" textLength="84.1" lengthAdjust="spacingAndGlyphs" >USDCHF-,Daily</text>
<text x="448.4" y="840" font-size="12.5" fill="#5a5a5a" font-weight="normal" text-anchor="start" textLength="87.6" lengthAdjust="spacingAndGlyphs" >USDCNH-,Daily</text>
<text x="559" y="840" font-size="12.5" fill="#5a5a5a" font-weight="normal" text-anchor="start" textLength="96.8" lengthAdjust="spacingAndGlyphs" >EURCHF-,Weekly</text>
<text x="339.7" y="840" font-size="12.5" fill="#000" font-weight="normal" text-anchor="start" textLength="84.9" lengthAdjust="spacingAndGlyphs" >USDCAD-,Daily</text>
<rect x="112" y="828" width="1" height="14" fill="#6a6a6a"/>
<rect x="219" y="828" width="1" height="14" fill="#6a6a6a"/>
<rect x="548" y="828" width="1" height="14" fill="#6a6a6a"/>
<rect x="668" y="828" width="1" height="14" fill="#6a6a6a"/>
<polygon points="1437,831 1437,838 1434,834.5" fill="#9a9a9a"/>
<polygon points="1453,831 1453,838 1456,834.5" fill="#9a9a9a"/>
</svg>

<div style="position:absolute;left:4px;top:44px;width:224px;height:68px;background:#fff;"></div>
<div style="position:absolute;left:6px;top:46px;width:52px;height:24px;background:linear-gradient(#ff5c5c,#e83a3a);border:1px solid #c00000;border-bottom:none;box-sizing:border-box;"></div>
<div style="position:absolute;left:6px;top:70px;width:109px;height:40px;background:linear-gradient(#e23232,#b30000);"></div>
<div style="position:absolute;left:58px;top:70px;width:57px;height:1px;background:#c00000;"></div>
<div style="position:absolute;left:10px;top:69px;width:44px;height:1px;background:#800000;"></div>
<div style="position:absolute;left:10px;top:70px;width:44px;height:1px;background:#ff8a8a;"></div>
<div style="position:absolute;left:173px;top:46px;width:52px;height:24px;background:linear-gradient(#ff5c5c,#e83a3a);border:1px solid #c00000;border-bottom:none;box-sizing:border-box;"></div>
<div style="position:absolute;left:117px;top:70px;width:108px;height:40px;background:linear-gradient(#e23232,#b30000);"></div>
<div style="position:absolute;left:117px;top:70px;width:56px;height:1px;background:#c00000;"></div>
<div style="position:absolute;left:177px;top:69px;width:44px;height:1px;background:#800000;"></div>
<div style="position:absolute;left:177px;top:70px;width:44px;height:1px;background:#ff8a8a;"></div>
<div style="position:absolute;left:60px;top:46px;width:111px;height:22px;border:1px solid #a4a7ae;box-sizing:border-box;background:#fff;"></div>
<div style="position:absolute;left:81px;top:47px;width:1px;height:20px;background:#a4a7ae;"></div>
<div style="position:absolute;left:149px;top:47px;width:1px;height:20px;background:#a4a7ae;"></div>
<div style="position:absolute;left:62px;top:48px;width:18px;height:18px;background:linear-gradient(#f0f0f0 0,#ececec 33%,#d6d6d6 33%,#d3d3d3 100%);"></div>
<div style="position:absolute;left:151px;top:48px;width:18px;height:18px;background:linear-gradient(#f0f0f0 0,#ececec 33%,#d6d6d6 33%,#d3d3d3 100%);"></div>

<svg width="1465" height="845" viewBox="0 0 1465 845" style="position:absolute;left:0;top:0;pointer-events:none" font-family="Liberation Sans, sans-serif">

<defs><linearGradient id="pg" gradientUnits="userSpaceOnUse" x1="0" y1="70" x2="0" y2="110"><stop offset="0" stop-color="#e23232"/><stop offset="1" stop-color="#b30000"/></linearGradient></defs>
<polygon points="67.8,55 73.2,55 70.5,58.2" fill="#5060c0"/>
<polygon points="156.8,58 162.2,58 159.5,54.8" fill="#5060c0"/>

<text x="121.2" y="61" font-size="12" fill="#000" font-weight="normal" textLength="25.2" lengthAdjust="spacingAndGlyphs" >1.00</text><text x="17.4" y="62" font-size="13" fill="#fff" font-weight="normal" textLength="27.4" lengthAdjust="spacingAndGlyphs" >SELL</text><text x="185.6" y="62" font-size="13" fill="#fff" font-weight="normal" textLength="25.2" lengthAdjust="spacingAndGlyphs" >BUY</text><text x="25.1" y="100.6" font-size="13.3" fill="#fff" font-weight="bold" textLength="25.6" lengthAdjust="spacingAndGlyphs" >1.31</text><text x="135.1" y="100.6" font-size="13.3" fill="#fff" font-weight="bold" textLength="25.6" lengthAdjust="spacingAndGlyphs" >1.31</text><text x="52.6" y="100.6" font-size="34.8" fill="#fff" font-weight="normal" textLength="36.6" lengthAdjust="spacingAndGlyphs" stroke="url(#pg)" stroke-width="0.7">77</text><text x="166.7" y="100.6" font-size="34.8" fill="#fff" font-weight="normal" textLength="33.4" lengthAdjust="spacingAndGlyphs" stroke="url(#pg)" stroke-width="0.7">79</text><text x="92.5" y="84.7" font-size="12.5" fill="#fff" font-weight="bold" textLength="7.9" lengthAdjust="spacingAndGlyphs" >2</text><text x="204.2" y="84.7" font-size="12.5" fill="#fff" font-weight="bold" textLength="6.9" lengthAdjust="spacingAndGlyphs" >2</text>
</svg>
</div>
</body></html>
